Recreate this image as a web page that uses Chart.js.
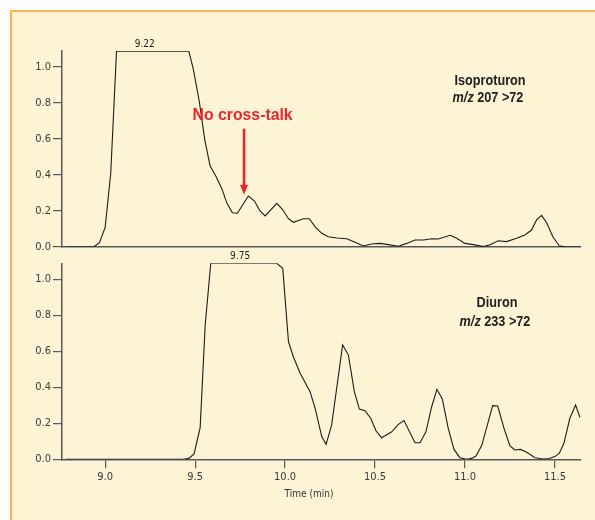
<!DOCTYPE html>
<html>
<head>
<meta charset="utf-8">
<script src="https://cdn.jsdelivr.net/npm/chart.js@4/dist/chart.umd.min.js"></script>
<style>
	body { margin: 0; width: 595px; height: 520px; position: relative; background: #fff; overflow: hidden; }
	#frame { position: absolute; left: 10px; top: 10px; width: 585px; height: 510px; box-sizing: border-box;
		background: #fdf3d5; border-left: 2px solid #fbb44a; border-top: 2px solid #fbb44a; }
	canvas { position: absolute; left: 0; }
	#topChart { top: 0; }
	#bottomChart { top: 240px; }
</style>
</head>
<body>
<div id="frame"></div>
<canvas id="topChart" width="595" height="260"></canvas>
<canvas id="bottomChart" width="595" height="280"></canvas>
<script>
// Isoproturon, m/z 207 > 72
const isoTime = [8.78, 8.935, 8.968, 9.0, 9.031, 9.063, 9.465, 9.49, 9.522, 9.554, 9.583, 9.617, 9.648, 9.676,
	9.707, 9.735, 9.796, 9.83, 9.861, 9.889, 9.954, 9.985, 10.019, 10.046, 10.102, 10.135, 10.167, 10.204, 10.24,
	10.287, 10.343, 10.389, 10.435, 10.48, 10.528, 10.574, 10.63, 10.676, 10.722, 10.769, 10.815, 10.852, 10.917,
	10.954, 11.0, 11.046, 11.102, 11.139, 11.185, 11.231, 11.287, 11.333, 11.37, 11.398, 11.426, 11.454, 11.49,
	11.524, 11.565, 11.639];
const isoSignal = [0, 0, 0.024, 0.109, 0.41, 1.086, 1.086, 0.986, 0.814, 0.593, 0.45, 0.39, 0.325, 0.245,
	0.19, 0.187, 0.283, 0.255, 0.2, 0.172, 0.242, 0.209, 0.157, 0.137, 0.157, 0.157, 0.112, 0.076, 0.057,
	0.05, 0.046, 0.026, 0.006, 0.017, 0.02, 0.013, 0.004, 0.02, 0.039, 0.039, 0.046, 0.044, 0.065,
	0.048, 0.02, 0.013, 0.002, 0.013, 0.035, 0.03, 0.048, 0.067, 0.094, 0.15, 0.175, 0.135, 0.054,
	0.007, 0, 0];

// Diuron, m/z 233 > 72
const diuTime = [8.78, 9.435, 9.465, 9.494, 9.528, 9.556, 9.587, 9.954, 9.987, 10.019, 10.046, 10.083, 10.139,
	10.167, 10.204, 10.228, 10.259, 10.32, 10.352, 10.385, 10.413, 10.444, 10.476, 10.506, 10.537, 10.593, 10.63,
	10.661, 10.722, 10.75, 10.783, 10.815, 10.844, 10.874, 10.907, 10.939, 10.972, 11.009, 11.037, 11.061, 11.093,
	11.154, 11.182, 11.217, 11.25, 11.278, 11.309, 11.343, 11.389, 11.435, 11.468, 11.5, 11.524, 11.55, 11.583,
	11.615, 11.639];
const diuSignal = [0, 0, 0.005, 0.03, 0.176, 0.746, 1.089, 1.089, 1.061, 0.653, 0.57, 0.48, 0.376,
	0.283, 0.126, 0.083, 0.191, 0.635, 0.579, 0.376, 0.279, 0.27, 0.228, 0.157, 0.12, 0.153, 0.194,
	0.215, 0.092, 0.092, 0.153, 0.292, 0.389, 0.335, 0.172, 0.055, 0.009, 0, 0.005, 0.018, 0.076,
	0.298, 0.296, 0.172, 0.074, 0.052, 0.055, 0.039, 0.009, 0.002, 0.004, 0.015, 0.033, 0.089, 0.228,
	0.302, 0.233];

const timeTicks = [9.0, 9.5, 10.0, 10.5, 11.0, 11.5];
const signalTicks = [0, 0.2, 0.4, 0.6, 0.8, 1.0];
const peakTimes = [9.22, 9.75];
const peakLabels = ['9.22', '9.75'];
const crossTalkAt = [9.772, 0.29];

const narrow = '"DejaVu Sans Condensed", "Liberation Sans Narrow", sans-serif';
const sans = '"Liberation Sans", Arial, sans-serif';
const axisColor = '#585858';
const tickFont = { family: narrow, size: 11 };

const ready = (callback) =>{
	if (document.readyState != "loading") callback();
	else document.addEventListener("DOMContentLoaded", callback);
}

ready(() =>{
	topChart();
	bottomChart();
});

function points(times, values)
{
	return times.map((t, i) => ({ x: t, y: values[i] }));
}

function options(padding, ymax, showTime, xHeight)
{
	return {
		responsive: false,
		animation: false,
		layout: { padding: padding },
		plugins: { legend: { display: false }, tooltip: { enabled: false } },
		scales: {
			x: {
				type: 'linear', min: 8.76, max: 11.645,
				border: { display: true, color: axisColor, width: 1.5 },
				grid: { display: showTime, drawOnChartArea: false, drawTicks: true, tickLength: 9, color: axisColor, lineWidth: 1.2 },
				ticks: { display: showTime, padding: 2, color: '#3a3a3a', font: tickFont, callback: v => v.toFixed(1) },
				afterBuildTicks: s => { s.ticks = timeTicks.map(v => ({ value: v })); },
				afterFit: s => { s.height = xHeight; }
			},
			y: {
				type: 'linear', min: 0, max: ymax,
				border: { display: true, color: axisColor, width: 1.5 },
				grid: { drawOnChartArea: false, drawTicks: true, tickLength: 9, color: axisColor, lineWidth: 1.2 },
				ticks: { padding: 2, color: '#3a3a3a', font: tickFont, callback: v => v.toFixed(1) },
				afterBuildTicks: s => { s.ticks = signalTicks.map(v => ({ value: v })); },
				afterFit: s => { s.width = 62; }
			}
		}
	};
}

function dataset(times, values)
{
	return {
		data: points(times, values),
		borderColor: '#1c1c1c',
		borderWidth: 1.1,
		pointRadius: 0,
		tension: 0,
		fill: false
	};
}

// squeezed (condensed) text, centred on cx
function squeeze(c, text, cx, baseline, font, k)
{
	c.save();
	c.font = font;
	c.textAlign = 'center';
	c.translate(cx, baseline);
	c.scale(k, 1);
	c.fillText(text, 0, 0);
	c.restore();
}

// "m/z" in italic, rest in bold, centred on cx
function drawMz(c, text, cx, baseline)
{
	const k = 0.845;
	const italic = 'italic bold 15px ' + sans;
	const bold = 'bold 15px ' + sans;
	c.save();
	c.font = italic;
	const w1 = c.measureText('m/z').width;
	c.font = bold;
	const w2 = c.measureText(' ' + text).width;
	c.translate(cx - k * (w1 + w2) / 2, baseline);
	c.scale(k, 1);
	c.textAlign = 'left';
	c.font = italic;
	c.fillText('m/z', 0, 0);
	c.font = bold;
	c.fillText(' ' + text, w1, 0);
	c.restore();
}

function topChart()
{
	const ctx = document.getElementById('topChart').getContext('2d');

	const notes = {
		id: 'topNotes',
		afterDatasetsDraw(chart) {
			const c = chart.ctx;
			const { x, y } = chart.scales;
			c.save();
			c.fillStyle = '#222';
			c.textAlign = 'center';
			c.textBaseline = 'alphabetic';
			c.font = '10px ' + narrow;
			c.fillText(peakLabels[0], x.getPixelForValue(peakTimes[0]), y.top - 4.3);

			squeeze(c, 'Isoproturon', 490, 85, 'bold 15px ' + sans, 0.845);
			drawMz(c, '207 >72', 488, 101.7);

			// arrow
			const ax = x.getPixelForValue(crossTalkAt[0]);
			const ay = y.getPixelForValue(crossTalkAt[1]);
			c.fillStyle = '#e8262c';
			c.strokeStyle = '#e8262c';
			c.lineWidth = 2.6;
			c.beginPath();
			c.moveTo(ax, ay - 66);
			c.lineTo(ax, ay - 8);
			c.stroke();
			c.beginPath();
			c.moveTo(ax - 4, ay - 10);
			c.lineTo(ax + 4, ay - 10);
			c.lineTo(ax, ay);
			c.closePath();
			c.fill();
			squeeze(c, 'No cross-talk', ax - 1.5, ay - 74.3, 'bold 17px ' + sans, 0.93);
			c.restore();
		}
	};

	new Chart(ctx, {
		type: 'line',
		data: { datasets: [dataset(isoTime, isoSignal)] },
		options: options({ top: 51, left: 0, right: 14, bottom: 13 }, 1.087, false, 0),
		plugins: [notes]
	});
}

function bottomChart()
{
	const ctx = document.getElementById('bottomChart').getContext('2d');

	const notes = {
		id: 'bottomNotes',
		afterDatasetsDraw(chart) {
			const c = chart.ctx;
			const { x, y } = chart.scales;
			c.save();
			c.fillStyle = '#222';
			c.textAlign = 'center';
			c.textBaseline = 'alphabetic';
			c.font = '10px ' + narrow;
			c.fillText(peakLabels[1], x.getPixelForValue(peakTimes[1]), y.top - 4.3);

			squeeze(c, 'Diuron', 497, 67.3, 'bold 15px ' + sans, 0.845);
			drawMz(c, '233 >72', 495, 86);

			c.fillStyle = '#333';
			c.font = '10px ' + narrow;
			c.textAlign = 'center';
			c.fillText('Time (min)', 309, 257);
			c.restore();
		}
	};

	new Chart(ctx, {
		type: 'line',
		data: { datasets: [dataset(diuTime, diuSignal)] },
		options: options({ top: 23.3, left: 0, right: 14, bottom: 0 }, 1.089, true, 60.7),
		plugins: [notes]
	});
}
</script>
</body>
</html>
